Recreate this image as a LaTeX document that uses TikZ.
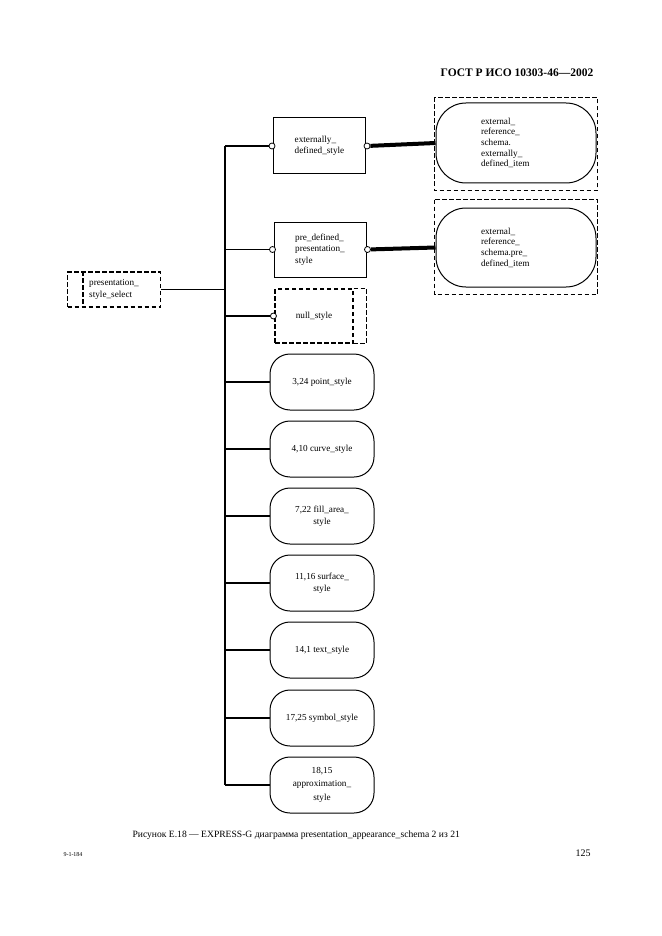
\documentclass[tikz,border=0pt]{standalone}
\usepackage{fontspec}
\setmainfont{Liberation Serif}
\usetikzlibrary{positioning}

\tikzset{
  ent/.style={draw, line width=1pt, minimum width=92pt, minimum height=56pt, inner sep=0pt, align=left, font=\fontsize{9.2}{11.5}\selectfont},
  typ/.style={draw, line width=1pt, rounded corners=20pt, minimum width=104pt, minimum height=56pt, inner sep=0pt, align=center, font=\fontsize{9.2}{12.5}\selectfont},
  extbox/.style={draw, line width=1pt, rounded corners=30pt, minimum width=160pt, inner sep=0pt, text width=70pt, align=left, font=\fontsize{9.2}{10.7}\selectfont},
  dbox/.style={line width=1.1pt, dash pattern=on 4.5pt off 2.5pt},
  rel/.style={line width=1.1pt},
  fatrel/.style={line width=4pt},
  knob/.style={draw, fill=white, line width=0.8pt, circle, inner sep=0pt, minimum size=6pt},
}

\begin{document}
\begin{tikzpicture}[x=1pt, y=-1pt]
    \useasboundingbox[fill=white] (0,0) rectangle (661,936);

    % page header and footer
    \node[font=\fontsize{11.5}{13}\selectfont\bfseries] (hdr) at (517,73) {ГОСТ Р ИСО 10303-46—2002};
    \node[anchor=west, font=\fontsize{9.6}{12}\selectfont] (cap) at (129,835) {Рисунок E.18 — EXPRESS-G диаграмма presentation\_appearance\_schema 2 из 21};
    \node[font=\fontsize{10}{12}\selectfont] (pno) at (583,853) {125};
    \node[font=\fontsize{6}{7}\selectfont] (sig) at (73,855) {9-1-184};

    % select type
    \node[draw, dbox, minimum width=93pt, minimum height=35pt, inner sep=0pt, align=left, font=\fontsize{9.2}{12}\selectfont] (pss) at (114,289.5) {presentation\_\\style\_select};
    \draw[dbox] ([xshift=16pt]pss.north west) -- ([xshift=16pt]pss.south west);

    % spine
    \coordinate (spine) at (225,0);

    % entities with external references
    \node[ent] (eds) at (319.5,146) {externally\_\\defined\_style};
    \node[ent, minimum height=55pt] (pdps) at (320,249.5) {pre\_defined\_\\presentation\_\\style};

    \node[extbox, minimum height=80pt] (ext1) at (516,143) {external\_\\reference\_\\schema.\\externally\_\\defined\_item};
    \draw[dbox] ([shift={(-1pt,5pt)}]ext1.north west) rectangle ([shift={(1pt,-7pt)}]ext1.south east);
    \node[extbox, minimum height=79pt] (ext2) at (516,247.5) {external\_\\reference\_\\schema.pre\_\\defined\_item};
    \draw[dbox] ([shift={(-1pt,8pt)}]ext2.north west) rectangle ([shift={(1pt,-7pt)}]ext2.south east);

    % null style
    \node[draw, dbox, minimum width=78pt, minimum height=54pt, inner sep=0pt, font=\fontsize{9.2}{11}\selectfont] (nul) at (314,316) {null\_style};
    \draw[dbox] (nul.north east) -- ++(13,0) |- (nul.south east);

    % defined types
    \foreach \i/\y/\txt in {1/382/{3,24 point\_style}, 2/449/{4,10 curve\_style}, 3/516/{7,22 fill\_area\_\\style}, 4/583/{11,16 surface\_\\style}, 5/650/{14,1 text\_style}, 6/718/{17,25 symbol\_style}, 7/785/{18,15\\approximation\_\\[2pt]style}} {
        \node[typ] (s\i) at (322,\y) {\txt};
        \draw[rel] (spine |- s\i.west) -- (s\i.west);
    }

    % connectors
    \draw[rel] (spine |- eds.west) -- (spine |- s7.west);
    \draw[rel] (pss.east) -- (spine |- pss.east);

    \node[knob] (k1) at ([xshift=-1pt]eds.west) {};
    \node[knob] (k2) at ([xshift=-1pt]pdps.west) {};
    \node[knob] (k3) at ([xshift=-1pt]nul.west) {};
    \draw[rel] (spine |- k1) -- (k1);
    \draw[rel] (spine |- k2) -- (k2);
    \draw[rel] (spine |- k3) -- (k3);

    \node[knob] (k4) at ([xshift=1pt]eds.east) {};
    \node[knob] (k5) at ([xshift=1pt]pdps.east) {};
    \draw[fatrel] (k4) -- (ext1.west);
    \draw[fatrel] (k5) -- (ext2.west);
\end{tikzpicture}
\end{document}
